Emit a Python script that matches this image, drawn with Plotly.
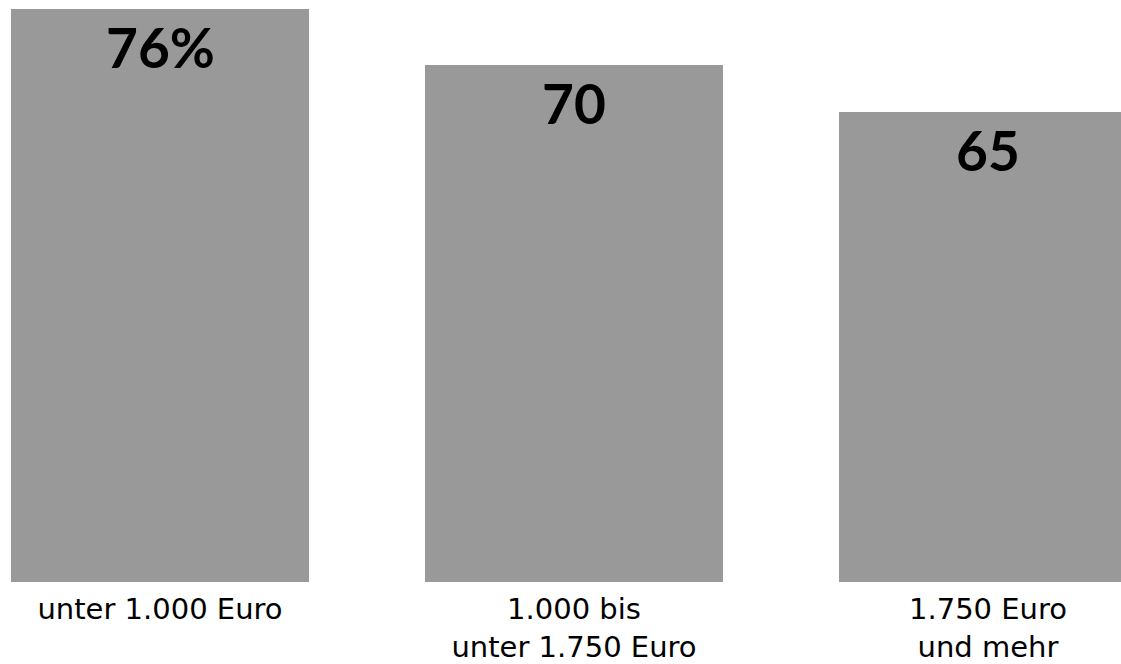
import plotly.graph_objects as go

# Share per net income group
categories = ["unter 1.000 Euro", "1.000 bis<br>unter 1.750 Euro", "1.750 Euro<br>und mehr"]
values = [76, 70, 65]
value_labels = [f"{v}%" if i == 0 else f"{v}" for i, v in enumerate(values)]

x_pos = list(range(len(categories)))

fig = go.Figure(
    go.Bar(
        x=x_pos,
        y=values,
        width=0.72,
        marker=dict(color="#999999", line=dict(width=0)),
        hoverinfo="skip",
    )
)

# value labels sit inside the top of each bar
for xp, v, lab in zip(x_pos, values, value_labels):
    fig.add_annotation(
        x=xp, y=v, text=f"<b>{lab}</b>", showarrow=False,
        xanchor="center", yanchor="top", yshift=-3,
        font=dict(family="Lato, DejaVu Sans", size=55, color="#000000"),
    )

fig.update_layout(
    width=1121,
    height=664,
    margin=dict(l=0, r=0, t=0, b=82),
    paper_bgcolor="white",
    plot_bgcolor="white",
    showlegend=False,
    bargap=0,
)
fig.update_xaxes(
    range=[-160 / 414, -160 / 414 + 1121 / 414],
    tickmode="array",
    tickvals=x_pos,
    ticktext=categories,
    showgrid=False,
    zeroline=False,
    showline=False,
    ticks="",
    ticklabelstandoff=7,
    tickfont=dict(family="DejaVu Sans", size=29, color="#000000"),
)
fig.update_yaxes(
    range=[14.9, 76.95],
    visible=False,
    showgrid=False,
    zeroline=False,
)

fig.write_html("out.html")
